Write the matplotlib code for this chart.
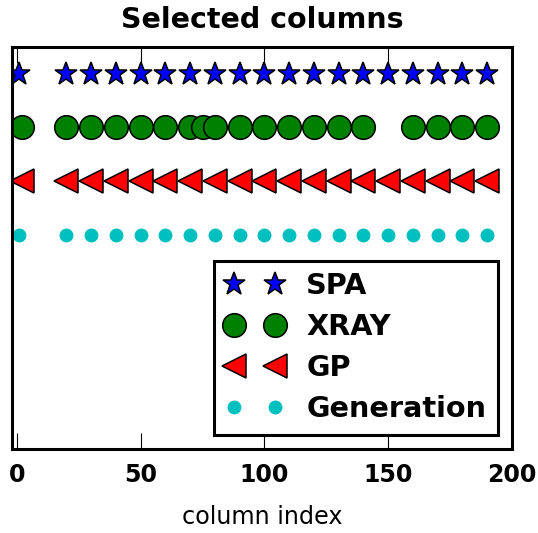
import numpy as np
import matplotlib
matplotlib.use("Agg")
import matplotlib.pyplot as plt

# selected column indices per method
spa_cols = [1, 20, 30, 40, 50, 60, 70, 80, 90, 100, 110, 120, 130, 140, 150, 160, 170, 180, 190]
xray_cols = [2, 20, 30, 40, 50, 60, 70, 75, 80, 90, 100, 110, 120, 130, 140, 160, 170, 180, 190]
gp_cols = [2, 20, 30, 40, 50, 60, 70, 80, 90, 100, 110, 120, 130, 140, 150, 160, 170, 180, 190]
gen_cols = [1, 20, 30, 40, 50, 60, 70, 80, 90, 100, 110, 120, 130, 140, 150, 160, 170, 180, 190]

labels = ["SPA", "XRAY", "GP", "Generation"]
rows = [4, 3, 2, 1]
xticks = [0, 50, 100, 150, 200]

fig = plt.figure(figsize=(5.38, 5.33), dpi=100)
ax = fig.add_axes([12 / 538, 84 / 533, 500 / 538, 402 / 533])

ax.plot(spa_cols, np.full(len(spa_cols), rows[0]), "*", color="b", ms=17,
        mec="k", mew=1.1, label=labels[0])
ax.plot(xray_cols, np.full(len(xray_cols), rows[1]), "o", color="g", ms=17,
        mec="k", mew=1.1, label=labels[1])
ax.plot(gp_cols, np.full(len(gp_cols), rows[2]), "<", color="r", ms=17,
        mec="k", mew=1.1, label=labels[2])
ax.plot(gen_cols, np.full(len(gen_cols), rows[3]), "o", color="c", ms=10,
        mec="c", mew=0, label=labels[3])

ax.set_xlim(-2, 200)
ax.set_ylim(-3, 4.5)
ax.set_xticks(xticks)
ax.set_xticklabels([str(t) for t in xticks], fontsize=17, fontweight="bold")
ax.set_yticks([])
ax.tick_params(axis="x", direction="in", top=True, bottom=True,
               length=11.5, width=0.8, pad=10)
for s in ax.spines.values():
    s.set_linewidth(2.2)

ax.set_xlabel("column index", fontsize=17.2, labelpad=13)
ax.set_title("Selected columns", fontsize=20.5, fontweight="bold", pad=14)

leg = ax.legend(loc="lower right", numpoints=2, fancybox=False, framealpha=1,
                edgecolor="k", prop={"size": 20.7, "weight": "bold"},
                borderaxespad=0.5, labelspacing=0.45)
leg.get_frame().set_linewidth(2.2)

fig.savefig("out.png", dpi=100)
